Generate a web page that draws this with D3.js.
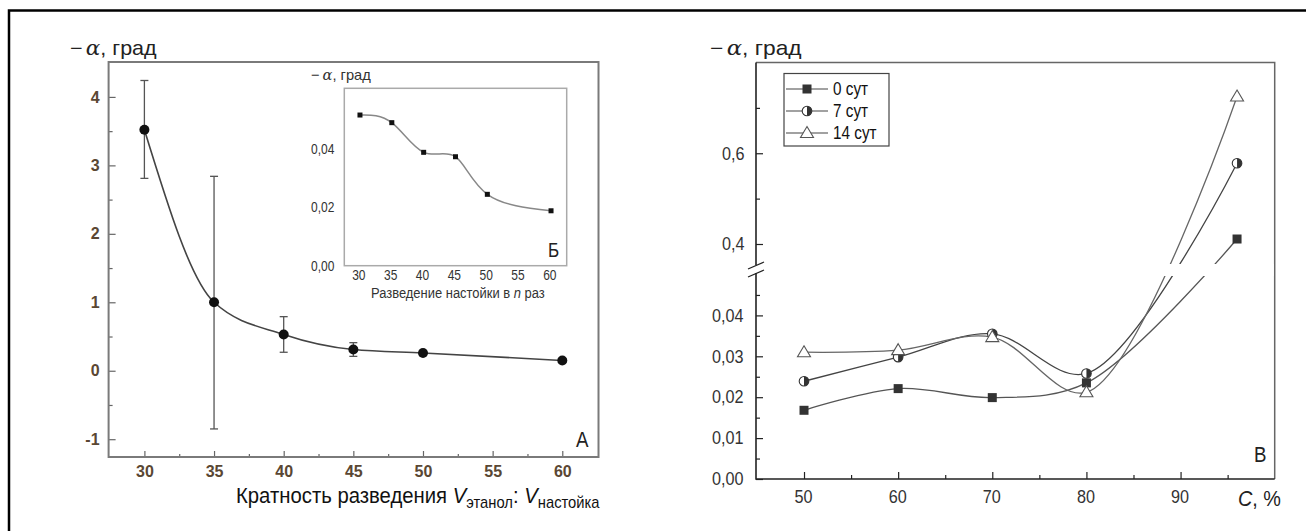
<!DOCTYPE html>
<html>
<head>
<meta charset="utf-8">
<script src="https://cdn.jsdelivr.net/npm/d3@7"></script>
<style>
  body { margin: 0; background: #fff; }
  svg { display: block; }
</style>
</head>
<body>
<script>
// Panel A: optical rotation vs dilution ratio (with error bars)
const dilutionA = [30, 35, 40, 45, 50, 60];
const rotationA = [3.52, 1.0, 0.53, 0.31, 0.26, 0.15];
const errHighA = [4.24, 2.84, 0.79, 0.41, null, null];
const errLowA = [2.81, -0.85, 0.27, 0.21, null, null];
const ticksAx = [30, 35, 40, 45, 50, 55, 60];
const ticksAy = [-1, 0, 1, 2, 3, 4];

// Panel Б (inset): dilution n times
const dilutionInset = [30, 35, 40, 45, 50, 60];
const rotationInset = [0.0513, 0.0487, 0.0386, 0.0371, 0.0243, 0.0187];
const ticksInsetX = [30, 35, 40, 45, 50, 55, 60];
const ticksInsetY = [0, 0.02, 0.04];

// Panel B: concentration, three storage times
const concentrationB = [50, 60, 70, 80, 96];
const day0 = [0.0168, 0.0221, 0.0199, 0.0235, 0.411];
const day7 = [0.0239, 0.0298, 0.0355, 0.0258, 0.578];
const day14 = [0.0310, 0.0315, 0.0347, 0.0212, 0.725];
const seriesNames = ["0 сут", "7 сут", "14 сут"];
const ticksBx = [50, 60, 70, 80, 90];
const ticksBlow = [0, 0.01, 0.02, 0.03, 0.04];
const ticksBhigh = [0.4, 0.6];

const W = 1306, H = 531;
const sans = "'Liberation Sans', Arial, sans-serif";
const comma = f => v => d3.format(f)(v).replace(".", ",");

const svg = d3.select("body").append("svg")
  .attr("width", W).attr("height", H);

// outer frame (only top and left)
svg.append("path")
  .attr("d", `M9,${H} V10.5 H${W}`)
  .attr("fill", "none").attr("stroke", "#000").attr("stroke-width", 2.5);

// squeeze a text horizontally so it looks like a narrow font
function narrowText(sel, k) {
  const bb = sel.node().getBBox();
  sel.attr("transform", `translate(${bb.x},0) scale(${k},1) translate(${-bb.x},0)`);
}
function fitText(sel, width) {
  narrowText(sel, width / sel.node().getBBox().width);
}

function alphaLabel(x, y, size, color) {
  const t = svg.append("text").attr("x", x).attr("y", y)
    .attr("font-family", sans).attr("font-size", size).attr("fill", color);
  t.append("tspan").text("−");
  t.append("tspan").attr("font-family", "'DejaVu Serif', 'Liberation Serif', serif")
    .attr("font-style", "italic").attr("dx", 3).text("α");
  t.append("tspan").text(", град");
  return t;
}

function styleAxis(g, size, color, tickColor, k, weight) {
  g.select(".domain").remove();
  g.attr("font-family", sans).attr("font-size", size);
  g.selectAll("text").attr("fill", color).attr("font-weight", weight || "normal");
  g.selectAll("line").attr("stroke", tickColor).attr("stroke-width", 1.2);
  if (k) g.selectAll("text").each(function () { narrowText(d3.select(this), k); });
}

// ---------------- Panel A ----------------
const xA = d3.scaleLinear().domain([27.43, 62.6]).range([108.6, 598.5]);
const yA = d3.scaleLinear().domain([-1.26, 4.51]).range([457, 62]);
const gA = svg.append("g");

gA.append("g").attr("transform", `translate(0,${yA.range()[0]})`)
  .call(d3.axisBottom(xA).tickValues(d3.range(32.5, 60, 5)).tickSize(-3).tickFormat(""))
  .call(g => styleAxis(g, 15, "#000", "#666"));
gA.append("g").attr("transform", `translate(0,${yA.range()[0]})`)
  .call(d3.axisBottom(xA).tickValues(ticksAx).tickSize(-6).tickPadding(9).tickFormat(d3.format("d")))
  .call(g => styleAxis(g, 16, "#5a4733", "#666", 0, "bold"));
gA.append("g").attr("transform", `translate(${xA.range()[0]},0)`)
  .call(d3.axisLeft(yA).tickValues(d3.range(-0.5, 4.5, 1)).tickSize(-4).tickFormat(""))
  .call(g => styleAxis(g, 15, "#000", "#666"));
gA.append("g").attr("transform", `translate(${xA.range()[0]},0)`)
  .call(d3.axisLeft(yA).tickValues(ticksAy).tickSize(-7).tickPadding(9).tickFormat(d => String(d)))
  .call(g => styleAxis(g, 16, "#5a4733", "#666", 0, "bold"));

gA.append("rect")
  .attr("x", xA.range()[0]).attr("y", yA.range()[1])
  .attr("width", xA.range()[1] - xA.range()[0]).attr("height", yA.range()[0] - yA.range()[1])
  .attr("fill", "none").attr("stroke", "#7a7a7a").attr("stroke-width", 2);

const ptsA = dilutionA.map((d, i) => ({ x: d, y: rotationA[i], hi: errHighA[i], lo: errLowA[i] }));

// error bars
const eb = gA.append("g").attr("stroke", "#555").attr("stroke-width", 1.3);
ptsA.filter(d => d.hi !== null).forEach(d => {
  const cx = xA(d.x);
  eb.append("line").attr("x1", cx).attr("x2", cx).attr("y1", yA(d.hi)).attr("y2", yA(d.lo));
  eb.append("line").attr("x1", cx - 4).attr("x2", cx + 4).attr("y1", yA(d.hi)).attr("y2", yA(d.hi));
  eb.append("line").attr("x1", cx - 4).attr("x2", cx + 4).attr("y1", yA(d.lo)).attr("y2", yA(d.lo));
});

gA.append("path")
  .attr("d", d3.line().x(d => xA(d.x)).y(d => yA(d.y)).curve(d3.curveMonotoneX)(ptsA))
  .attr("fill", "none").attr("stroke", "#444").attr("stroke-width", 1.6);

gA.append("g").selectAll("circle").data(ptsA).join("circle")
  .attr("cx", d => xA(d.x)).attr("cy", d => yA(d.y)).attr("r", 5)
  .attr("fill", "#111");

fitText(alphaLabel(70, 55, 20, "#222"), 87);
narrowText(gA.append("text").attr("x", 576).attr("y", 447)
  .attr("font-family", sans).attr("font-size", 22).attr("fill", "#222").text("А"), 0.85);

// axis title with subscripts
const tA = gA.append("text").attr("x", 236).attr("y", 503)
  .attr("font-family", sans).attr("font-size", 22).attr("fill", "#111");
tA.append("tspan").text("Кратность разведения  ");
tA.append("tspan").attr("font-style", "italic").text("V");
tA.append("tspan").attr("font-size", 16).attr("dy", 5).text("этанол");
tA.append("tspan").attr("dy", -5).text(": ");
tA.append("tspan").attr("font-style", "italic").text("V");
tA.append("tspan").attr("font-size", 16).attr("dy", 5).text("настойка");
fitText(tA, 364);

// ---------------- Inset Б ----------------
const xI = d3.scaleLinear().domain([27.54, 62.46]).range([344.3, 566.7]);
const yI = d3.scaleLinear().domain([0, 0.0604]).range([265.7, 88.3]);
const gI = svg.append("g");

gI.append("rect")
  .attr("x", xI.range()[0]).attr("y", yI.range()[1])
  .attr("width", xI.range()[1] - xI.range()[0]).attr("height", yI.range()[0] - yI.range()[1])
  .attr("fill", "#fff").attr("stroke", "#aaa").attr("stroke-width", 1.5);

gI.append("g").attr("transform", `translate(0,${yI.range()[0]})`)
  .call(d3.axisBottom(xI).tickValues(ticksInsetX).tickSize(0).tickPadding(4).tickFormat(d3.format("d")))
  .call(g => styleAxis(g, 15, "#333", "#999", 0.8));
gI.append("g").attr("transform", `translate(${xI.range()[0]},0)`)
  .call(d3.axisLeft(yI).tickValues(ticksInsetY).tickSize(0).tickPadding(4).tickFormat(comma(".2f")))
  .call(g => styleAxis(g, 15, "#333", "#999", 0.8));

const ptsI = dilutionInset.map((d, i) => ({ x: d, y: rotationInset[i] }));
gI.append("path")
  .attr("d", d3.line().x(d => xI(d.x)).y(d => yI(d.y)).curve(d3.curveNatural)(ptsI))
  .attr("fill", "none").attr("stroke", "#888").attr("stroke-width", 1.5);
gI.append("g").selectAll("rect").data(ptsI).join("rect")
  .attr("x", d => xI(d.x) - 2.5).attr("y", d => yI(d.y) - 2.5)
  .attr("width", 5).attr("height", 5).attr("fill", "#111");

fitText(alphaLabel(311, 80, 15, "#333"), 60);
narrowText(gI.append("text").attr("x", 548).attr("y", 257)
  .attr("font-family", sans).attr("font-size", 20).attr("fill", "#222").text("Б"), 0.85);
const tI = gI.append("text").attr("x", 371).attr("y", 298)
  .attr("font-family", sans).attr("font-size", 15).attr("fill", "#333");
tI.append("tspan").text("Разведение настойки в ");
tI.append("tspan").attr("font-style", "italic").text("n");
tI.append("tspan").text(" раз");
fitText(tI, 174);

// ---------------- Panel B (broken y axis) ----------------
const xB = d3.scaleLinear().domain([44.9, 100]).range([756, 1274.7]);
const yLow = d3.scaleLinear().domain([0, 0.05]).range([479, 274.5]);
const yHigh = d3.scaleLinear().domain([0.4, 0.8]).range([244, 62.5]);
const yB = v => (v < 0.2 ? yLow(v) : yHigh(v));
const leftB = xB.range()[0], rightB = xB.range()[1];
const topB = yHigh.range()[1], bottomB = yLow.range()[0];
const gB = svg.append("g");

// frame: top and right lighter
gB.append("path").attr("d", `M${leftB},${topB} H${rightB} V${bottomB}`)
  .attr("fill", "none").attr("stroke", "#666").attr("stroke-width", 1.5);

const seriesB = [day0, day7, day14].map((vals, k) => ({
  name: seriesNames[k], k,
  pts: concentrationB.map((c, i) => ({ x: c, y: vals[i] }))
}));

const lineB = d3.line().x(d => xB(d.x)).y(d => yB(d.y)).curve(d3.curveCatmullRom.alpha(0.5));
gB.append("g").selectAll("path").data(seriesB).join("path")
  .attr("d", s => lineB(s.pts))
  .attr("fill", "none").attr("stroke", s => ["#555", "#444", "#666"][s.k]).attr("stroke-width", 1.3);

// gap where curves cross the axis break
gB.append("rect").attr("x", leftB + 1).attr("y", 264).attr("width", rightB - leftB - 2).attr("height", 12)
  .attr("fill", "#fff");

// axes
gB.append("g").attr("transform", `translate(0,${bottomB})`)
  .call(d3.axisBottom(xB).tickValues(d3.range(55, 100, 10)).tickSize(-4).tickFormat(""))
  .call(g => styleAxis(g, 15, "#000", "#222"));
gB.append("g").attr("transform", `translate(0,${bottomB})`)
  .call(d3.axisBottom(xB).tickValues(ticksBx).tickSize(-7).tickPadding(11).tickFormat(d3.format("d")))
  .call(g => styleAxis(g, 18, "#333", "#222", 0.9));
gB.append("g").attr("transform", `translate(${leftB},0)`)
  .call(d3.axisLeft(yLow).tickValues(d3.range(0.005, 0.05, 0.01)).tickSize(-4).tickFormat(""))
  .call(g => styleAxis(g, 15, "#000", "#222"));
gB.append("g").attr("transform", `translate(${leftB},0)`)
  .call(d3.axisLeft(yLow).tickValues(ticksBlow).tickSize(-7).tickPadding(9).tickFormat(comma(".2f")))
  .call(g => styleAxis(g, 18, "#333", "#222", 0.9));
gB.append("g").attr("transform", `translate(${leftB},0)`)
  .call(d3.axisLeft(yHigh).tickValues([0.5, 0.7]).tickSize(-4).tickFormat(""))
  .call(g => styleAxis(g, 15, "#000", "#222"));
gB.append("g").attr("transform", `translate(${leftB},0)`)
  .call(d3.axisLeft(yHigh).tickValues(ticksBhigh).tickSize(-7).tickPadding(9).tickFormat(comma(".1f")))
  .call(g => styleAxis(g, 18, "#333", "#222", 0.9));

// axis lines with break
gB.append("path")
  .attr("d", `M${leftB},${topB} V265 M${leftB},273 V${bottomB} H${rightB}`)
  .attr("fill", "none").attr("stroke", "#222").attr("stroke-width", 1.6);
gB.append("path")
  .attr("d", `M${leftB - 8},269 L${leftB + 8},262 M${leftB - 8},277 L${leftB + 8},270`)
  .attr("fill", "none").attr("stroke", "#222").attr("stroke-width", 1.3);

// markers
function drawMarker(g, k, x, y) {
  if (k === 0) {
    g.append("rect").attr("x", x - 4.5).attr("y", y - 4.5).attr("width", 9).attr("height", 9)
      .attr("fill", "#333");
  } else if (k === 1) {
    g.append("circle").attr("cx", x).attr("cy", y).attr("r", 4.8)
      .attr("fill", "#fff").attr("stroke", "#333").attr("stroke-width", 1.1);
    g.append("path")
      .attr("d", `M${x},${y - 4.8} A4.8,4.8 0 0 1 ${x},${y + 4.8} Z`)
      .attr("fill", "#333");
  } else {
    g.append("path")
      .attr("d", `M${x},${y - 6.5} L${x + 6.5},${y + 4.5} L${x - 6.5},${y + 4.5} Z`)
      .attr("fill", "#fff").attr("stroke", "#555").attr("stroke-width", 1.1);
  }
}
const gm = gB.append("g");
seriesB.forEach(s => s.pts.forEach(p => drawMarker(gm, s.k, xB(p.x), yB(p.y))));

// legend
const lg = gB.append("g");
lg.append("rect").attr("x", 784).attr("y", 73.5).attr("width", 105).attr("height", 72.5)
  .attr("fill", "#fff").attr("stroke", "#444").attr("stroke-width", 1.2);
seriesB.forEach((s, i) => {
  const ly = 89 + i * 22;
  lg.append("line").attr("x1", 786).attr("x2", 828).attr("y1", ly).attr("y2", ly)
    .attr("stroke", "#444").attr("stroke-width", 1.2);
  drawMarker(lg, s.k, 807, ly);
  narrowText(lg.append("text").attr("x", 833).attr("y", ly + 6.5)
    .attr("font-family", sans).attr("font-size", 18).attr("fill", "#111").text(s.name), 0.85);
});

fitText(alphaLabel(710, 55, 20, "#222"), 92);
narrowText(gB.append("text").attr("x", 1254).attr("y", 462)
  .attr("font-family", sans).attr("font-size", 22).attr("fill", "#222").text("В"), 0.85);
const tB = gB.append("text").attr("x", 1238).attr("y", 506)
  .attr("font-family", sans).attr("font-size", 22).attr("fill", "#222");
tB.append("tspan").attr("font-style", "italic").text("С");
tB.append("tspan").text(", %");
fitText(tB, 43);
</script>
</body>
</html>
